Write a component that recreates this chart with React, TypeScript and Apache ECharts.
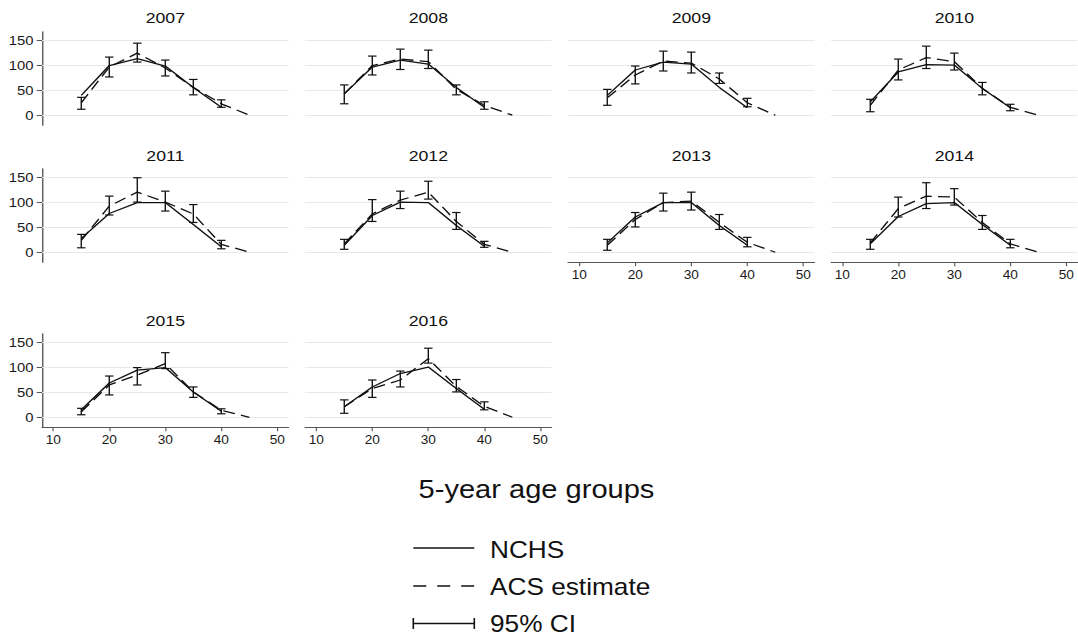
import React, { useEffect, useRef } from "react";
import * as echarts from "echarts";

// horizontal stretch of the reference figure
const S = 1.14;
const W = 1078 / S;
const H = 639;

const years = ["2007", "2008", "2009", "2010", "2011", "2012", "2013", "2014", "2015", "2016"];
const ageGroups = [15, 20, 25, 30, 35, 40];
const acsAgeGroups = [15, 20, 25, 30, 35, 40, 45];
const xTicks = [10, 20, 30, 40, 50];
const yTicks = [0, 50, 100, 150];

// NCHS rates by year (ages 15..40)
const nchsRates = [
  [40, 100, 114, 99, 56, 16],
  [43, 97, 111, 103, 56, 16],
  [40, 91, 107, 103, 56, 15],
  [27, 87, 102, 101, 54, 15],
  [28, 78, 100, 100, 56, 11],
  [14, 74, 101, 100, 54, 12],
  [19, 71, 100, 100, 54, 14],
  [17, 72, 98, 100, 56, 14],
  [15, 69, 95, 100, 51, 12],
  [21, 61, 88, 101, 58, 16],
];

// ACS estimates by year (ages 15..45)
const acsRates = [
  [25, 97, 125, 95, 56, 23, 0],
  [43, 100, 113, 108, 52, 20, 0],
  [35, 81, 109, 105, 73, 25, 0],
  [20, 91, 116, 108, 54, 16, 0],
  [24, 93, 121, 101, 77, 16, 0],
  [17, 77, 105, 121, 62, 16, 0],
  [14, 66, 100, 103, 60, 20, 0],
  [19, 88, 113, 111, 60, 17, 0],
  [11, 65, 85, 108, 51, 14, 0],
  [21, 58, 75, 118, 62, 22, 0],
];

// 95% CI bounds (ages 15..40)
const ciLow = [
  [12, 77, 107, 79, 41, 16],
  [23, 81, 92, 94, 41, 12],
  [20, 63, 89, 85, 64, 17],
  [7, 71, 94, 91, 41, 9],
  [9, 75, 101, 83, 60, 7],
  [6, 62, 88, 107, 46, 10],
  [4, 51, 83, 85, 46, 11],
  [6, 71, 88, 95, 46, 9],
  [5, 45, 65, 98, 40, 7],
  [8, 40, 61, 109, 51, 15],
];
const ciHigh = [
  [36, 117, 145, 111, 72, 31],
  [61, 119, 133, 131, 61, 27],
  [52, 99, 129, 127, 85, 34],
  [32, 113, 139, 125, 66, 22],
  [36, 113, 150, 123, 96, 24],
  [26, 106, 123, 143, 80, 22],
  [26, 80, 119, 121, 76, 30],
  [26, 111, 140, 128, 74, 26],
  [18, 83, 100, 130, 61, 17],
  [35, 75, 93, 139, 76, 31],
];

const FONT = "'Liberation Sans', Arial, Helvetica, sans-serif";
const INK = "#111";
const AXIS = "#555";

const rowTop = [31.75, 168.8, 333.8];
const rowH = 93.4;
const titleY = [18.3, 155.8, 320.8];
const colLeft = (c: number) => (42.05 + 263 * c) / S;
const gridW = 246.5 / S;

const panelCol = (i: number) => (i < 8 ? i % 4 : i - 8);
const panelRow = (i: number) => (i < 4 ? 0 : i < 8 ? 1 : 2);
const showX = (i: number) => i === 6 || i === 7 || i === 8 || i === 9;
const showY = (i: number) => panelCol(i) === 0;

function buildOption() {
  const grid = years.map((_, i) => ({
    left: colLeft(panelCol(i)),
    top: rowTop[panelRow(i)],
    width: gridW,
    height: rowH,
  }));

  const xAxis = years.map((_, i) => ({
    type: "value",
    gridIndex: i,
    min: 8,
    max: 52,
    axisLine: { show: showX(i), onZero: false, lineStyle: { color: AXIS, width: 1.2 } },
    axisTick: { show: showX(i), length: 4, customValues: xTicks, lineStyle: { color: AXIS, width: 1 } },
    axisLabel: {
      show: showX(i),
      customValues: xTicks,
      margin: 6.5,
      fontSize: 12,
      color: "#1a1a1a",
      fontFamily: FONT,
    },
    splitLine: { show: false },
  }));

  const yAxis = years.map((_, i) => ({
    type: "value",
    gridIndex: i,
    min: -20,
    max: 168,
    axisLine: { show: showY(i), onZero: false, lineStyle: { color: AXIS, width: 1.2 } },
    axisTick: { show: showY(i), length: 4.7, customValues: yTicks, lineStyle: { color: AXIS, width: 1 } },
    axisLabel: {
      show: showY(i),
      customValues: yTicks,
      margin: 7.5,
      fontSize: 13,
      color: "#1a1a1a",
      fontFamily: FONT,
    },
    splitLine: { show: false },
  }));

  const series: any[] = [];
  years.forEach((_, i) => {
    series.push({
      type: "line",
      xAxisIndex: i,
      yAxisIndex: i,
      data: [[45, 0]],
      symbol: "none",
      showSymbol: false,
      lineStyle: { opacity: 0 },
      silent: true,
      z: 1,
      markLine: {
        z: 1,
        silent: true,
        symbol: ["none", "none"],
        label: { show: false },
        lineStyle: { color: "#e8e8e8", width: 1, type: "solid" },
        emphasis: { disabled: true },
        data: yTicks.map((v) => ({ yAxis: v })),
      },
    });
    series.push({
      name: "NCHS",
      type: "line",
      xAxisIndex: i,
      yAxisIndex: i,
      data: ageGroups.map((a, k) => [a, nchsRates[i][k]]),
      symbol: "none",
      lineStyle: { color: INK, width: 1.3 },
      z: 3,
    });
    series.push({
      name: "ACS estimate",
      type: "line",
      xAxisIndex: i,
      yAxisIndex: i,
      data: acsAgeGroups.map((a, k) => [a, acsRates[i][k]]),
      symbol: "none",
      lineStyle: { color: INK, width: 1.3, type: [10.5, 5.5] },
      z: 3,
    });
    series.push({
      name: "95% CI",
      type: "custom",
      xAxisIndex: i,
      yAxisIndex: i,
      data: ageGroups.map((a, k) => [a, ciLow[i][k], ciHigh[i][k]]),
      encode: { x: 0, y: [1, 2] },
      z: 4,
      renderItem: (params: any, api: any) => {
        const x = api.value(0);
        const lo = api.coord([x, api.value(1)]);
        const hi = api.coord([x, api.value(2)]);
        const hw = 3.7;
        const style = { stroke: INK, lineWidth: 1.2, fill: "none" };
        return {
          type: "group",
          children: [
            { type: "line", shape: { x1: lo[0], y1: lo[1], x2: hi[0], y2: hi[1] }, style },
            { type: "line", shape: { x1: lo[0] - hw, y1: lo[1], x2: lo[0] + hw, y2: lo[1] }, style },
            { type: "line", shape: { x1: hi[0] - hw, y1: hi[1], x2: hi[0] + hw, y2: hi[1] }, style },
          ],
        };
      },
    });
  });

  const graphic: any[] = [];
  years.forEach((y, i) => {
    graphic.push({
      type: "text",
      x: colLeft(panelCol(i)) + gridW / 2,
      y: titleY[panelRow(i)],
      style: { text: y, fontSize: 15.5, fontFamily: FONT, fill: INK, align: "center", verticalAlign: "middle" },
    });
  });
  graphic.push({
    type: "text",
    x: 536.5 / S,
    y: 489.5,
    style: {
      text: "5-year age groups",
      fontSize: 25.5,
      fontFamily: FONT,
      fill: INK,
      align: "center",
      verticalAlign: "middle",
    },
  });
  const lx1 = 413.3 / S;
  const lx2 = 474.3 / S;
  const tx = 490 / S;
  const legendRows = [
    { label: "NCHS", lineY: 548, textY: 550 },
    { label: "ACS estimate", lineY: 586, textY: 586.7 },
    { label: "95% CI", lineY: 623.5, textY: 624.3 },
  ];
  graphic.push({
    type: "line",
    shape: { x1: lx1, y1: legendRows[0].lineY, x2: lx2, y2: legendRows[0].lineY },
    style: { stroke: INK, lineWidth: 1.6 },
  });
  graphic.push({
    type: "line",
    shape: { x1: lx1, y1: legendRows[1].lineY, x2: lx2, y2: legendRows[1].lineY },
    style: { stroke: INK, lineWidth: 1.6, lineDash: [11.4, 9.6] },
  });
  graphic.push({
    type: "line",
    shape: { x1: lx1, y1: legendRows[2].lineY, x2: lx2, y2: legendRows[2].lineY },
    style: { stroke: INK, lineWidth: 1.6 },
  });
  [lx1, lx2].forEach((xx) =>
    graphic.push({
      type: "line",
      shape: { x1: xx, y1: legendRows[2].lineY - 5.5, x2: xx, y2: legendRows[2].lineY + 5.5 },
      style: { stroke: INK, lineWidth: 1.4 },
    })
  );
  legendRows.forEach((r) =>
    graphic.push({
      type: "text",
      x: tx,
      y: r.textY,
      style: { text: r.label, fontSize: 23, fontFamily: FONT, fill: INK, align: "left", verticalAlign: "middle" },
    })
  );

  return {
    animation: false,
    backgroundColor: "#ffffff",
    grid,
    xAxis,
    yAxis,
    series,
    graphic,
  };
}

export default function App() {
  const ref = useRef<HTMLDivElement>(null);
  useEffect(() => {
    if (!ref.current) return;
    const chart = echarts.init(ref.current, undefined, { renderer: "svg" });
    chart.setOption(buildOption() as any);
    return () => chart.dispose();
  }, []);
  return (
    <div
      style={{
        position: "absolute",
        left: 0,
        top: 0,
        width: 1078,
        height: H,
        overflow: "hidden",
        background: "#fff",
      }}
    >
      <div
        ref={ref}
        style={{
          width: W,
          height: H,
          transform: `scaleX(${S})`,
          transformOrigin: "0 0",
        }}
      />
    </div>
  );
}
